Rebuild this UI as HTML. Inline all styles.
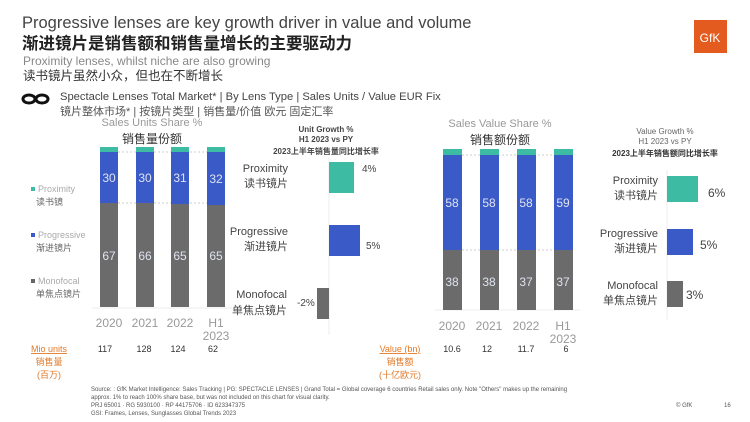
<!DOCTYPE html>
<html><head><meta charset="utf-8"><style>
html,body{margin:0;padding:0;background:#fff;}
svg{display:block;font-family:"Liberation Sans","Noto Sans CJK SC",sans-serif;}
</style></head><body>
<svg width="750" height="422" viewBox="0 0 750 422" xmlns="http://www.w3.org/2000/svg">
<rect width="750" height="422" fill="#fff"/>
<text x="22" y="28" font-size="16.5" fill="#444">Progressive lenses are key growth driver in value and volume</text>
<text x="22" y="49" font-size="16.5" font-weight="bold" fill="#222">渐进镜片是销售额和销售量增长的主要驱动力</text>
<text x="23" y="65" font-size="12" fill="#888">Proximity lenses, whilst niche are also growing</text>
<text x="23" y="80" font-size="12.5" fill="#333">读书镜片虽然小众，但也在不断增长</text>
<rect x="694" y="20" width="33" height="33" fill="#e35b1e"/>
<text x="710" y="42" font-size="12" fill="#fff" text-anchor="middle">GfK</text>
<g fill="none" stroke="#111" stroke-width="3"><ellipse cx="29" cy="99" rx="6" ry="4"/><ellipse cx="42" cy="99" rx="6" ry="4"/></g>
<text x="60" y="100" font-size="11.2" fill="#444">Spectacle Lenses Total Market* | By Lens Type | Sales Units / Value EUR Fix</text>
<text x="60" y="115" font-size="11" fill="#555">镜片整体市场* | 按镜片类型 | 销售量/价值 欧元 固定汇率</text>
<text x="152" y="126" font-size="11" fill="#999" text-anchor="middle">Sales Units Share %</text>
<text x="152" y="143" font-size="12" fill="#333" text-anchor="middle">销售量份额</text>
<text x="500" y="127" font-size="11" fill="#999" text-anchor="middle">Sales Value Share %</text>
<text x="500" y="144" font-size="12" fill="#333" text-anchor="middle">销售额份额</text>
<rect x="31" y="187" width="4" height="4" fill="#3dbca3"/><text x="38" y="192" font-size="9" fill="#aaa">Proximity</text><text x="36" y="205" font-size="9" fill="#666">读书镜</text>
<rect x="31" y="233" width="4" height="4" fill="#3a5bc7"/><text x="38" y="238" font-size="9" fill="#aaa">Progressive</text><text x="36" y="251" font-size="9" fill="#666">渐进镜片</text>
<rect x="31" y="279" width="4" height="4" fill="#666"/><text x="38" y="284" font-size="9" fill="#aaa">Monofocal</text><text x="36" y="297" font-size="9" fill="#666">单焦点镜片</text>
<g font-size="12" fill="#dfe3f0" text-anchor="middle">
<line x1="92" y1="308" x2="232" y2="308" stroke="#eee"/>
<line x1="118" y1="152" x2="207" y2="152" stroke="#ccc" stroke-dasharray="2,2"/>
<line x1="118" y1="203" x2="207" y2="203" stroke="#ccc" stroke-dasharray="2,2"/>
<rect x="100" y="147" width="18" height="5" fill="#3dbca3"/><rect x="100" y="152" width="18" height="51" fill="#3a5bc7"/><rect x="100" y="203" width="18" height="104" fill="#6b6b6b"/>
<rect x="136" y="147" width="18" height="5" fill="#3dbca3"/><rect x="136" y="152" width="18" height="51" fill="#3a5bc7"/><rect x="136" y="203" width="18" height="104" fill="#6b6b6b"/>
<rect x="171" y="147" width="18" height="5" fill="#3dbca3"/><rect x="171" y="152" width="18" height="52" fill="#3a5bc7"/><rect x="171" y="204" width="18" height="103" fill="#6b6b6b"/>
<rect x="207" y="147" width="18" height="5" fill="#3dbca3"/><rect x="207" y="152" width="18" height="53" fill="#3a5bc7"/><rect x="207" y="205" width="18" height="102" fill="#6b6b6b"/>
<text x="109" y="182">30</text><text x="145" y="182">30</text><text x="180" y="182">31</text><text x="216" y="183">32</text>
<text x="109" y="260">67</text><text x="145" y="260">66</text><text x="180" y="260">65</text><text x="216" y="260">65</text>
</g>
<g font-size="12" fill="#999" text-anchor="middle">
<text x="109" y="327">2020</text><text x="145" y="327">2021</text><text x="180" y="327">2022</text><text x="216" y="327">H1</text><text x="216" y="340">2023</text>
</g>
<g text-anchor="middle" fill="#444" font-weight="bold">
<text x="326" y="132" font-size="8">Unit Growth %</text><text x="326" y="142" font-size="8">H1 2023 vs PY</text><text x="326" y="154" font-size="8">2023上半年销售量同比增长率</text>
</g>
<line x1="329" y1="158" x2="329" y2="335" stroke="#eee"/>
<rect x="329" y="162" width="25" height="31" fill="#3dbca3"/>
<rect x="329" y="225" width="31" height="31" fill="#3a5bc7"/>
<rect x="317" y="288" width="12" height="31" fill="#6b6b6b"/>
<g font-size="11" fill="#444" text-anchor="end">
<text x="288" y="172">Proximity</text><text x="288" y="187">读书镜片</text>
<text x="288" y="235">Progressive</text><text x="288" y="250">渐进镜片</text>
<text x="287" y="298">Monofocal</text><text x="287" y="314">单焦点镜片</text>
</g>
<g font-size="10" fill="#444"><text x="362" y="172">4%</text><text x="366" y="249">5%</text><text x="297" y="306">-2%</text></g>
<g font-size="12" fill="#dfe3f0" text-anchor="middle">
<line x1="435" y1="310" x2="580" y2="310" stroke="#eee"/>
<line x1="462" y1="155" x2="554" y2="155" stroke="#ccc" stroke-dasharray="2,2"/>
<line x1="462" y1="250" x2="554" y2="250" stroke="#ccc" stroke-dasharray="2,2"/>
<rect x="443" y="149" width="19" height="6" fill="#3dbca3"/><rect x="443" y="155" width="19" height="95" fill="#3a5bc7"/><rect x="443" y="250" width="19" height="60" fill="#6b6b6b"/>
<rect x="480" y="149" width="19" height="6" fill="#3dbca3"/><rect x="480" y="155" width="19" height="95" fill="#3a5bc7"/><rect x="480" y="250" width="19" height="60" fill="#6b6b6b"/>
<rect x="517" y="149" width="19" height="6" fill="#3dbca3"/><rect x="517" y="155" width="19" height="95" fill="#3a5bc7"/><rect x="517" y="250" width="19" height="60" fill="#6b6b6b"/>
<rect x="554" y="149" width="19" height="6" fill="#3dbca3"/><rect x="554" y="155" width="19" height="95" fill="#3a5bc7"/><rect x="554" y="250" width="19" height="60" fill="#6b6b6b"/>
<text x="452" y="207">58</text><text x="489" y="207">58</text><text x="526" y="207">58</text><text x="563" y="207">59</text>
<text x="452" y="286">38</text><text x="489" y="286">38</text><text x="526" y="286">37</text><text x="563" y="286">37</text>
</g>
<g font-size="12" fill="#999" text-anchor="middle">
<text x="452" y="330">2020</text><text x="489" y="330">2021</text><text x="526" y="330">2022</text><text x="563" y="330">H1</text><text x="563" y="343">2023</text>
</g>
<g text-anchor="middle" fill="#666">
<text x="665" y="134" font-size="8">Value Growth %</text><text x="665" y="144" font-size="8">H1 2023 vs PY</text><text x="665" y="156" font-size="8" font-weight="bold" fill="#333">2023上半年销售额同比增长率</text>
</g>
<line x1="667" y1="170" x2="667" y2="320" stroke="#eee"/>
<rect x="667" y="176" width="31" height="26" fill="#3dbca3"/>
<rect x="667" y="229" width="26" height="26" fill="#3a5bc7"/>
<rect x="667" y="281" width="16" height="26" fill="#6b6b6b"/>
<g font-size="11" fill="#444" text-anchor="end">
<text x="658" y="184">Proximity</text><text x="658" y="199">读书镜片</text>
<text x="658" y="237">Progressive</text><text x="658" y="252">渐进镜片</text>
<text x="658" y="289">Monofocal</text><text x="658" y="304">单焦点镜片</text>
</g>
<g font-size="12" fill="#444"><text x="708" y="197">6%</text><text x="700" y="249">5%</text><text x="686" y="299">3%</text></g>
<g fill="#e07a2a" text-anchor="middle" font-size="9">
<text x="49" y="352" text-decoration="underline">Mio units</text><text x="49" y="365">销售量</text><text x="49" y="378">(百万)</text>
<text x="400" y="352" text-decoration="underline">Value (bn)</text><text x="400" y="365">销售额</text><text x="400" y="378">(十亿欧元)</text>
</g>
<g font-size="9" fill="#333" text-anchor="middle">
<text x="105" y="352">117</text><text x="144" y="352">128</text><text x="178" y="352">124</text><text x="213" y="352">62</text>
<text x="452" y="352">10.6</text><text x="487" y="352">12</text><text x="526" y="352">11.7</text><text x="566" y="352">6</text>
</g>
<g font-size="6" fill="#555">
<text x="91" y="391">Source: : GfK Market Intelligence: Sales Tracking | PG: SPECTACLE LENSES | Grand Total = Global coverage 6 countries Retail sales only. Note "Others" makes up the remaining</text>
<text x="91" y="399">approx. 1% to reach 100% share base, but was not included on this chart for visual clarity.</text>
<text x="91" y="407">PRJ 65001 · RG 5930100 · RP 44175706 · ID 623347375</text>
<text x="91" y="415">GSI: Frames, Lenses, Sunglasses Global Trends 2023</text>
<text x="676" y="407">© GfK</text><text x="724" y="407">16</text>
</g>
</svg>
</body></html>
